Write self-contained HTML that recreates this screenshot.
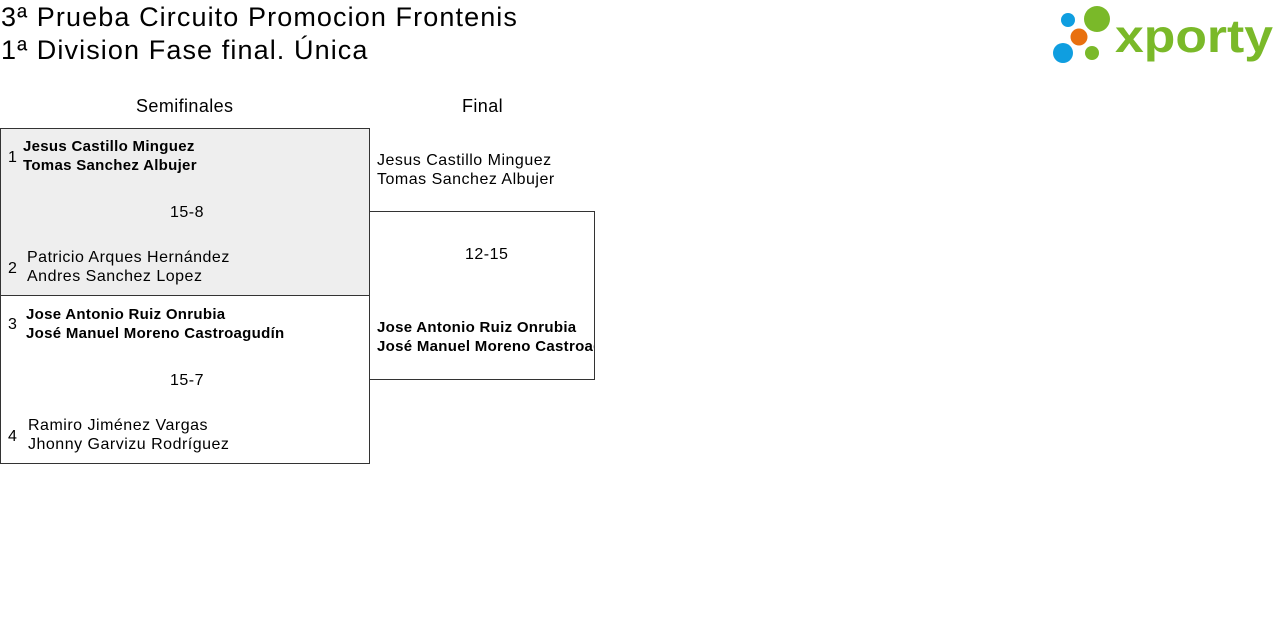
<!DOCTYPE html>
<html><head><meta charset="utf-8"><style>
body{margin:0;width:1280px;height:628px;background:#fff;font-family:"Liberation Sans",sans-serif;color:#000;position:relative;overflow:hidden}
.a{position:absolute;white-space:nowrap}
.t{font-size:27px;line-height:32px;letter-spacing:1.1px}
.h{font-size:18px;letter-spacing:0.4px}
.n{font-size:16px;line-height:19px;letter-spacing:0.5px}
.b{font-size:15px;font-weight:bold;letter-spacing:0.3px}
.box{position:absolute;border:1px solid #333;box-sizing:border-box}
</style></head><body>
<div class="a t" style="left:1px;top:1px">3ª Prueba Circuito Promocion Frontenis</div>
<div class="a t" style="left:1px;top:34px">1ª Division Fase final. Única</div>
<svg class="a" style="left:1050px;top:4px" width="226" height="62" viewBox="0 0 226 62">
<circle cx="18" cy="16" r="7" fill="#0f9ee0"/>
<circle cx="47" cy="15" r="13" fill="#7ab929"/>
<circle cx="29" cy="33" r="8.5" fill="#e8700f"/>
<circle cx="13" cy="49" r="10" fill="#0f9ee0"/>
<circle cx="42" cy="49" r="7" fill="#7ab929"/>
<text x="65" y="48" font-family="Liberation Sans,sans-serif" font-weight="bold" font-size="46" fill="#7ab929" textLength="158" lengthAdjust="spacingAndGlyphs">xporty</text>
</svg>
<div class="a h" style="left:136px;top:96px">Semifinales</div>
<div class="a h" style="left:462px;top:96px">Final</div>
<div class="box" style="left:0;top:128px;width:370px;height:168px;background:#eee"></div>
<div class="box" style="left:0;top:295px;width:370px;height:169px"></div>
<div class="box" style="left:369px;top:211px;width:226px;height:169px"></div>
<div class="a n" style="left:8px;top:148px">1</div>
<div class="a n b" style="left:23px;top:137px">Jesus Castillo Minguez<br>Tomas Sanchez Albujer</div>
<div class="a n" style="left:170px;top:203px">15-8</div>
<div class="a n" style="left:8px;top:259px">2</div>
<div class="a n" style="left:27px;top:248px">Patricio Arques Hernández<br>Andres Sanchez Lopez</div>
<div class="a n" style="left:8px;top:315px">3</div>
<div class="a n b" style="left:26px;top:305px">Jose Antonio Ruiz Onrubia<br>José Manuel Moreno Castroagudín</div>
<div class="a n" style="left:170px;top:371px">15-7</div>
<div class="a n" style="left:8px;top:427px">4</div>
<div class="a n" style="left:28px;top:416px">Ramiro Jiménez Vargas<br>Jhonny Garvizu Rodríguez</div>
<div class="a n" style="left:377px;top:151px">Jesus Castillo Minguez<br>Tomas Sanchez Albujer</div>
<div class="a n" style="left:465px;top:245px">12-15</div>
<div class="a n b" style="left:377px;top:318px;width:217px;overflow:hidden">Jose Antonio Ruiz Onrubia<br>José Manuel Moreno Castroagudín</div>
</body></html>
